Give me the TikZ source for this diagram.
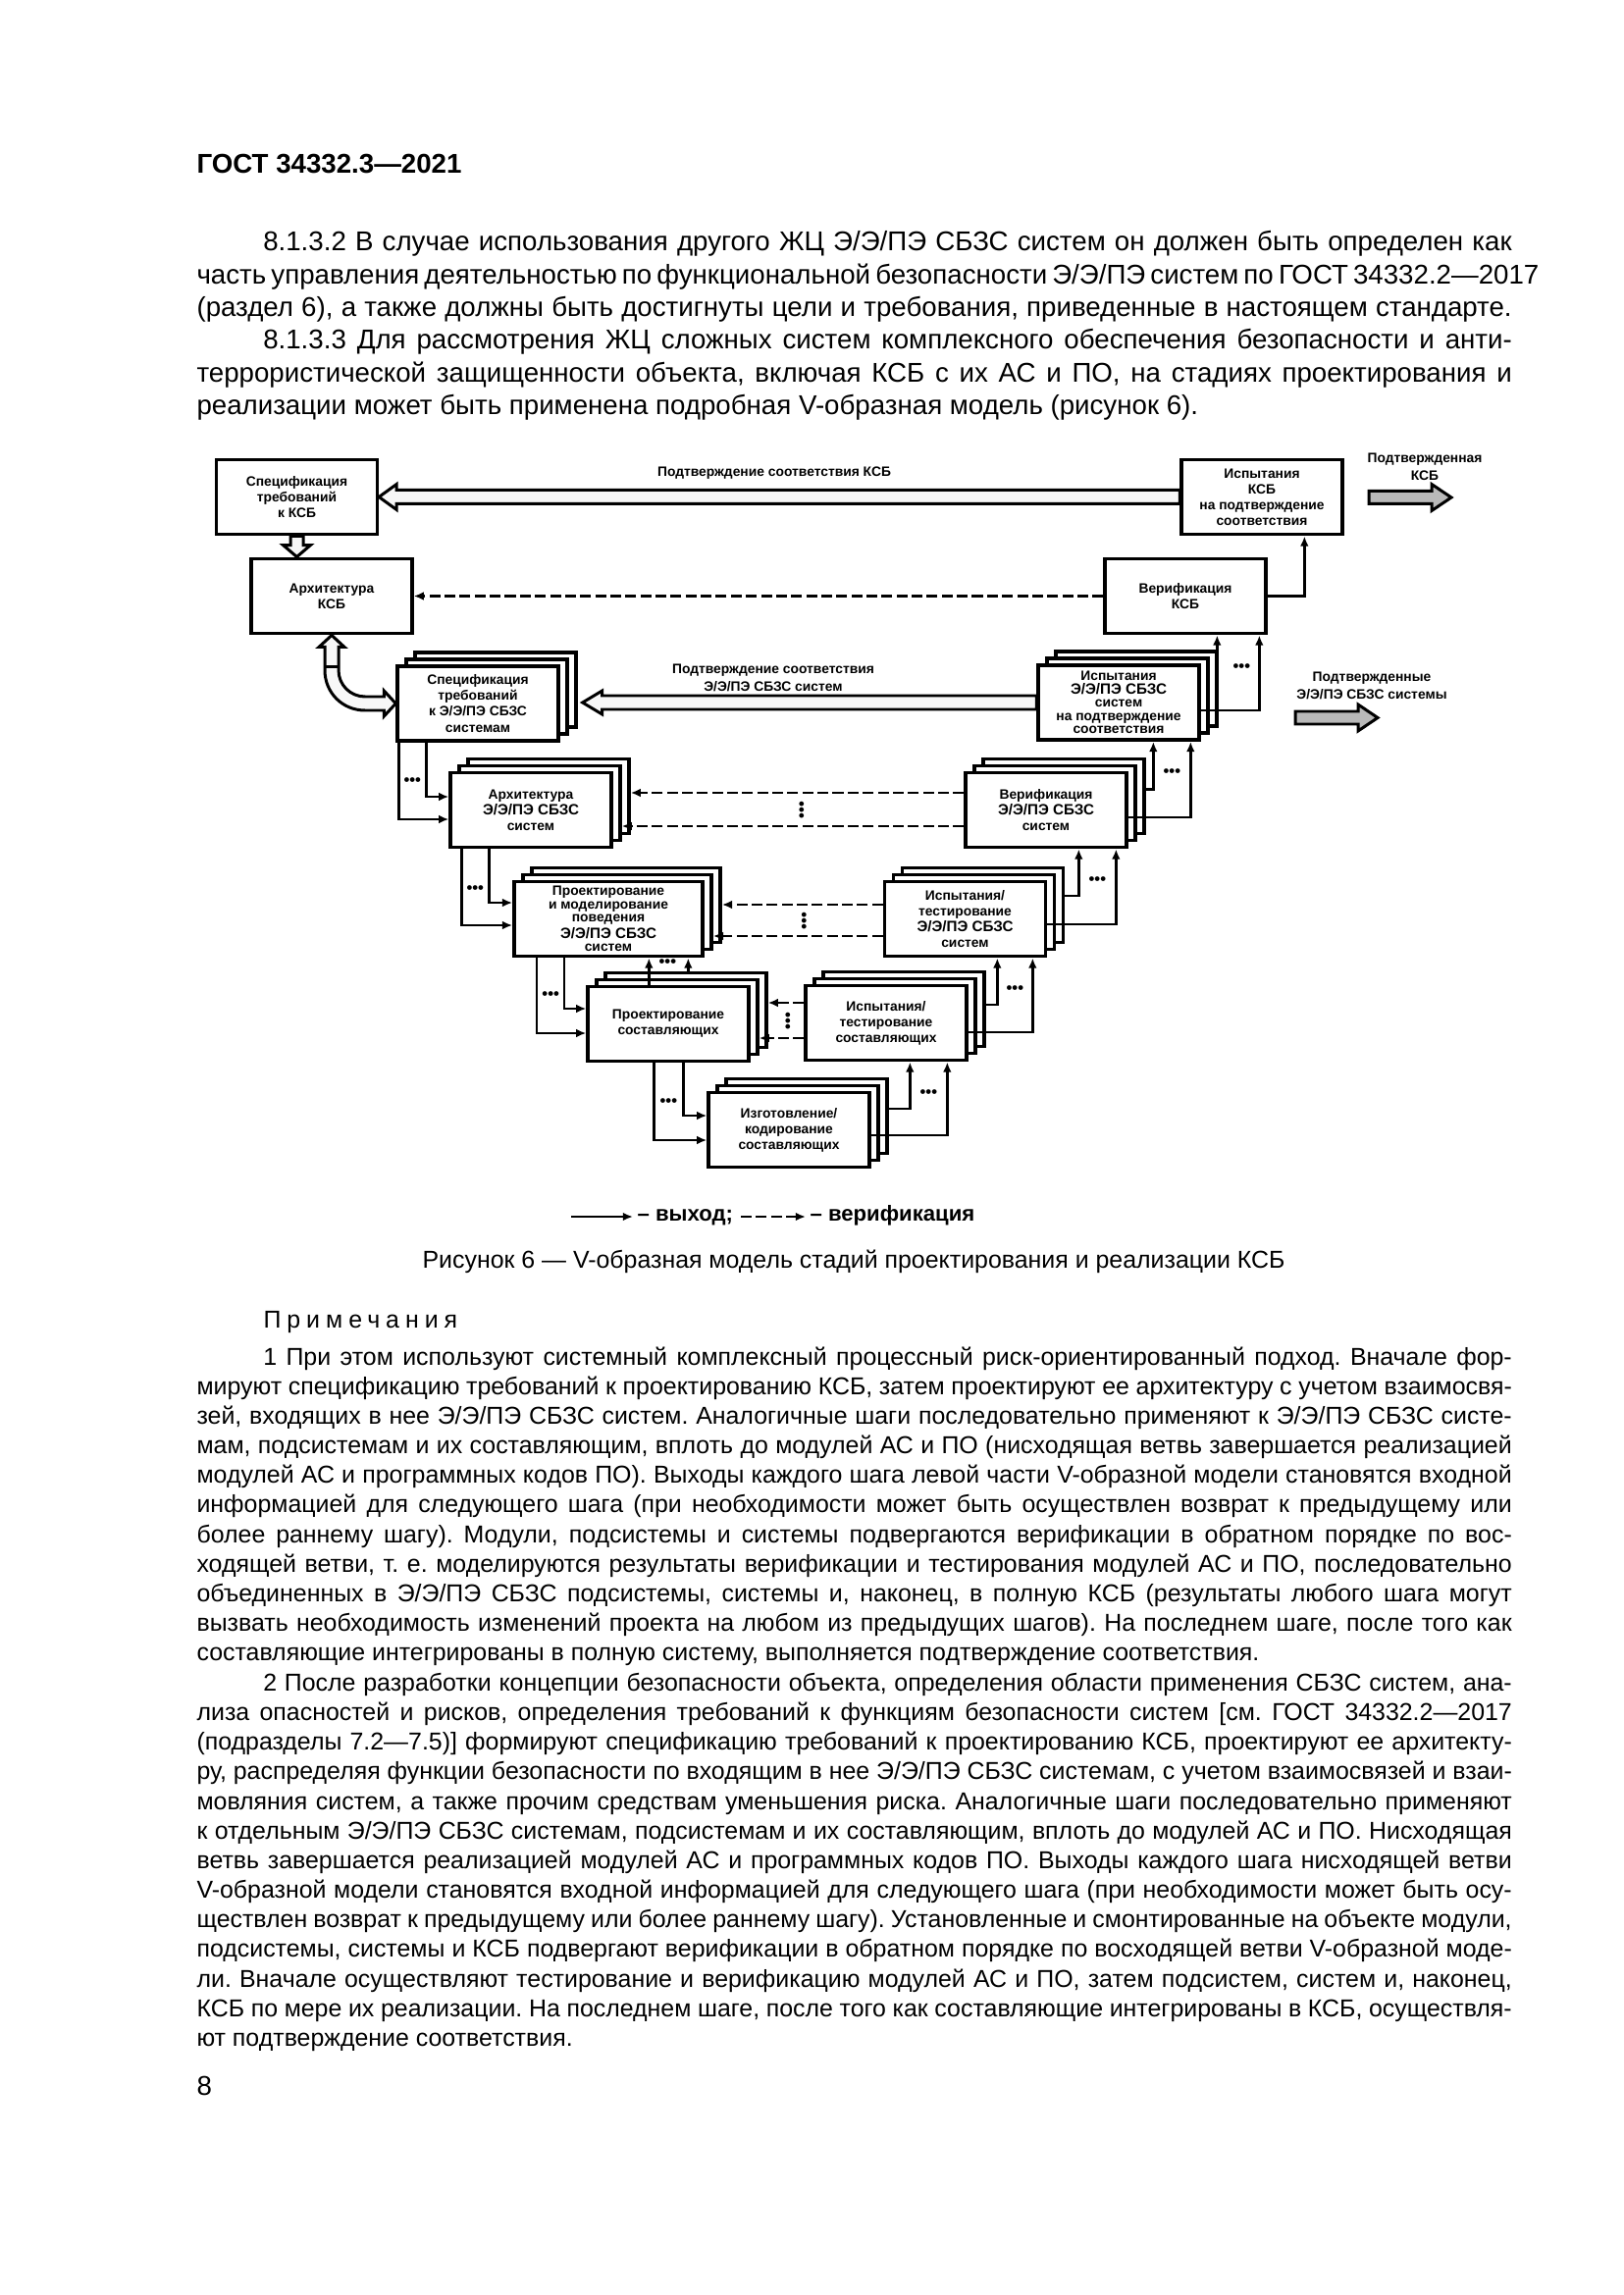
\documentclass[tikz,border=0pt]{standalone}
\usepackage{fontspec}
\setmainfont{Liberation Sans}
\usetikzlibrary{arrows.meta, calc}
\hfuzz=4pt \hbadness=10000
\frenchspacing
\newlength\textw \setlength\textw{170.2mm}
\newcommand\jl[1]{\hbox to\hsize{#1}}
\newcommand\el[1]{\hbox{#1}}
\newcommand\ind{\kern8.6mm}
\newcommand\txtblock[2]{\vtop{\hsize=\textw\baselineskip=#1\lineskiplimit=-1cm\lineskip=0pt #2}}
\newcommand\bodyfont{\fontsize{10}{12}\selectfont}
\newcommand\notefont{\fontsize{9}{10.9}\selectfont}
\newcommand\hdrfont{\fontsize{10}{12}\selectfont\bfseries}
\newcommand\boxfont{\fontsize{5}{5.8}\selectfont\bfseries}
\newcommand\tightfont{\fontsize{5}{4.9}\selectfont\bfseries}
\newcommand\lblfont{\fontsize{5}{6.3}\selectfont\bfseries}
\newcommand\dotfont{\fontsize{6}{6}\selectfont\bfseries}
\newcommand\lgdfont{\fontsize{8}{10}\selectfont\bfseries}
\newcommand\ee{{\fontsize{5.5}{5.8}\selectfont Э/Э/ПЭ СБЗС}}
% стопка из трёх блоков: имя, центр, опции, текст
\newcommand\stk[4]{%
  \node[blk,#3] (#1-2) at ($(#2)+(18,-14)$) {};
  \node[blk,#3] (#1-1) at ($(#2)+(9,-7)$) {};
  \node[blk,#3] (#1) at (#2) {#4};}
% серая стрелка вправо от точки
\newcommand\grayarrow[1]{%
  \draw[grar] (#1) -- ++(0,-6.5) -- ++(64,0) -- ++(0,-7) -- ++(20,13.5)
    -- ++(-20,13.5) -- ++(0,-7) -- ++(-64,0) -- cycle;}

\begin{document}
\begin{tikzpicture}[x=0.127mm, y=-0.127mm,
  blk/.style={draw, line width=0.45mm, fill=white, minimum width=20.8mm,
    minimum height=9.7mm, align=center, inner sep=1pt, font=\boxfont},
  wide/.style={minimum width=24.4mm},
  tight/.style={font=\tightfont},
  exitline/.style={line width=0.3mm, -{Latex[length=1.3mm, width=1.1mm]}},
  verline/.style={exitline, dash pattern=on 1.4mm off 0.55mm},
  holl/.style={draw, line width=0.38mm, fill=gray!6, line join=miter},
  grar/.style={draw, line width=0.38mm, fill=gray!55},
  dotsn/.style={font=\dotfont, inner sep=0},
  lbl/.style={font=\lblfont, align=center, inner sep=0},
  txt/.style={anchor=base west, inner sep=0, font=\bodyfont},
  lgd/.style={anchor=base west, inner sep=0, font=\lgdfont}]
  \useasboundingbox (0,0) rectangle (1654,2339);
  \fill[white] (0,0) rectangle (1654,2339);

  % шапка и текст над рисунком
  \node[txt, font=\hdrfont] (hdr) at (200,177) {ГОСТ 34332.3—2021};
  \node[txt] (p1) at (200,256) {\txtblock{4.23mm}{%
    \jl{\ind 8.1.3.2 В случае использования другого ЖЦ Э/Э/ПЭ СБЗС систем он должен быть определен как}
    \jl{часть управления деятельностью по функциональной безопасности Э/Э/ПЭ систем по ГОСТ 34332.2—2017}
    \jl{(раздел 6), а также должны быть достигнуты цели и требования, приведенные в настоящем стандарте.}}};
  \node[txt] (p2) at (200,356) {\txtblock{4.23mm}{%
    \jl{\ind 8.1.3.3 Для рассмотрения ЖЦ сложных систем комплексного обеспечения безопасности и анти-}
    \jl{террористической защищенности объекта, включая КСБ с их АС и ПО, на стадиях проектирования и}
    \el{реализации может быть применена подробная V-образная модель (рисунок 6).}}};

  % верхний уровень: КСБ
  \node[blk] (A) at (302.5,506.5) {Спецификация\\ требований\\ к КСБ};
  \node[blk] (B) at (338,607.5) {Архитектура\\ КСБ};
  \node[blk] (T) at (1286,506.5) {Испытания\\ КСБ\\ на подтверждение\\ соответствия};
  \node[blk] (V) at (1208,607.5) {Верификация\\ КСБ};

  % стопки блоков
  \stk{C}{487,717}{}{Спецификация\\ требований\\ к Э/Э/ПЭ СБЗС\\ системам}
  \stk{D}{1140,716}{tight}{Испытания\\ \ee\\ систем\\ на подтверждение\\ соответствия}
  \stk{E}{541,825.5}{}{Архитектура\\ \ee\\ систем}
  \stk{F}{1066,825.5}{}{Верификация\\ \ee\\ систем}
  \stk{G}{620,936.5}{wide,tight}{Проектирование\\ и моделирование\\ поведения\\ \ee\\ систем}
  \stk{H}{983.5,936.5}{}{Испытания/\\ тестирование\\ \ee\\ систем}
  \stk{I}{681,1043.5}{}{Проектирование\\ составляющих}
  \stk{J}{903,1042.5}{}{Испытания/\\ тестирование\\ составляющих}
  \stk{K}{804,1151.5}{}{Изготовление/\\ кодирование\\ составляющих}

  % полые стрелки
  \draw[holl] (A.east) -- ++(18,-13) -- ++(0,6) -- ($(T.west)+(0,-7)$)
    -- ($(T.west)+(0,7)$) -- ($(A.east)+(18,7)$) -- ++(0,6) -- cycle;
  \coordinate (ht) at ($(C-2.east |- D.west)+(5,0)$);
  \draw[holl] (ht) -- ++(20,-12) -- ++(0,5) -- ($(D.west)+(0,-7)$)
    -- ($(D.west)+(0,7)$) -- ($(ht)+(20,7)$) -- ++(0,5) -- cycle;
  \coordinate (ab) at (A.south |- B.north);
  \draw[holl] ($(A.south)+(-6.5,0)$) -- ($(ab)+(-6.5,-12)$) -- ++(-7.5,0) -- (ab)
    -- ($(ab)+(14,-12)$) -- ++(-7.5,0) -- ($(A.south)+(6.5,0)$) -- cycle;
  \coordinate (bc) at (B.south |- C.west);
  \draw[holl] (B.south) -- ($(B.south)+(-13,12)$) -- ($(B.south)+(-7,12)$)
    -- ($(bc)+(-7,-34)$) .. controls ($(bc)+(-7,-11)$) and ($(bc)+(11,7)$) .. ($(bc)+(34,7)$)
    -- ($(C.west)+(-12,7)$) -- ($(C.west)+(-12,13)$) -- (C.west)
    -- ($(C.west)+(-12,-13)$) -- ($(C.west)+(-12,-7)$)
    -- ($(bc)+(34,-7)$) .. controls ($(bc)+(19,-7)$) and ($(bc)+(7,-19)$) .. ($(bc)+(7,-34)$)
    -- ($(B.south)+(7,12)$) -- ($(B.south)+(13,12)$) -- cycle;
  \draw[line width=0.38mm] ($(B.south)+(-7,32)$) -- ($(B.south)+(7,32)$);

  % подписи
  \node[lbl] (lcsb) at (789,482) {Подтверждение соответствия КСБ};
  \node[lbl] (lsys) at (788,691) {Подтверждение соответствия\\ Э/Э/ПЭ СБЗС систем};
  \node[lbl] (lokcsb) at (1452,476) {Подтвержденная\\ КСБ};
  \node[lbl] (loksys) at (1398,699) {Подтвержденные\\ Э/Э/ПЭ СБЗС системы};
  \coordinate (g1) at (1395,507);
  \coordinate (g2) at (1320,731.5);
  \grayarrow{g1}
  \grayarrow{g2}

  % нисходящая ветвь
  \draw[exitline] ($(C.south west)+(31,0)$) |- ($(E.west)+(0,-13.5)$);
  \draw[exitline] ($(C.south west)+(3,0)$) |- ($(E.west)+(0,9.5)$);
  \node[dotsn] (dce) at ($(C.south west)+(17,40)$) {•••};
  \draw[exitline] ($(E.south west)+(41,0)$) |- ($(G.west)+(0,-16.5)$);
  \draw[exitline] ($(E.south west)+(13,0)$) |- ($(G.west)+(0,6.5)$);
  \node[dotsn] (deg) at ($(E.south west)+(27,41)$) {•••};
  \draw[exitline] ($(G.south west)+(53,0)$) |- ($(I.west)+(0,-15.5)$);
  \draw[exitline] ($(G.south west)+(25,0)$) |- ($(I.west)+(0,9.5)$);
  \node[dotsn] (dgi) at ($(G.south west)+(39,38)$) {•••};
  \draw[exitline] ($(I.south west)+(99,0)$) |- ($(K.west)+(0,-14.5)$);
  \draw[exitline] ($(I.south west)+(69,0)$) |- ($(K.west)+(0,10.5)$);
  \node[dotsn] (dik) at ($(I.south west)+(84,40)$) {•••};
  \draw[exitline] ($(I.north west)+(64,0)$) coordinate (ig1) -- (ig1 |- G.south);
  \draw[exitline] ($(I-2.north west)+(86,0)$) coordinate (ig2) -- (ig2 |- G.south);
  \node[dotsn] (dig) at ($(I.north west)+(83,-22)$) {•••};

  % восходящая ветвь
  \draw[exitline] ($(K-2.east)+(0,-7.5)$) -| ($(J.south west)+(108,0)$);
  \draw[exitline] ($(K.east)+(0,5.5)$) -| ($(J.south west)+(146,0)$);
  \node[dotsn] (dkj) at ($(J.south west)+(127,32)$) {•••};
  \draw[exitline] ($(J-2.east)+(0,-4.5)$) -| ($(H.south west)+(116.5,0)$);
  \draw[exitline] ($(J.east)+(0,9.5)$) -| ($(H.south west)+(152.5,0)$);
  \node[dotsn] (djh) at ($(H.south west)+(134.5,32)$) {•••};
  \draw[exitline] ($(H-2.east)+(0,-9.5)$) -| ($(F.south west)+(117,0)$);
  \draw[exitline] ($(H.east)+(0,5.5)$) -| ($(F.south west)+(155,0)$);
  \node[dotsn] (dhf) at ($(F.south west)+(136,32)$) {•••};
  \draw[exitline] ($(F-2.east)+(0,-7)$) -| ($(D.south west)+(119,0)$);
  \draw[exitline] ($(F.east)+(0,7.5)$) -| ($(D.south west)+(157,0)$);
  \node[dotsn] (dfd) at ($(D.south west)+(138,32)$) {•••};
  \draw[exitline] ($(D-2.east)+(0,-7)$) -| ($(V.south west)+(116,0)$);
  \draw[exitline] ($(D.east)+(0,8)$) -| ($(V.south west)+(159,0)$);
  \node[dotsn] (ddv) at ($(V.south west)+(141,33)$) {•••};
  \draw[exitline] (V.east) -| ($(T.south west)+(127,0)$);

  % верификация
  \draw[verline] (V.west) -- (B.east);
  \draw[verline] ($(F.west)+(0,-17.5)$) coordinate (fe1) -- (fe1 -| E-2.east);
  \draw[verline] ($(F.west)+(0,16.5)$) coordinate (fe2) -- (fe2 -| E-1.east);
  \node[dotsn, rotate=90] (dfe) at ($(F.west)+(-164,0)$) {•••};
  \draw[verline] ($(H.west)+(0,-14.5)$) coordinate (hg1) -- (hg1 -| G-2.east);
  \draw[verline] ($(H.west)+(0,17.5)$) coordinate (hg2) -- (hg2 -| G-1.east);
  \node[dotsn, rotate=90] (dhg) at ($(H.west)+(-79,2)$) {•••};
  \draw[verline] ($(J.west)+(0,-20.5)$) coordinate (ji1) -- (ji1 -| I-2.east);
  \draw[verline] ($(J.west)+(0,15.5)$) coordinate (ji2) -- (ji2 -| I-1.east);
  \node[dotsn, rotate=90] (dji) at ($(J.west)+(-15,-2)$) {•••};

  % легенда
  \node[lgd] (lgout) at (649,1244) {– выход;};
  \node[lgd] (lgver) at (825,1244) {– верификация};
  \coordinate (lgs) at (582,1240);
  \coordinate (lgv) at (755,1240);
  \draw[exitline] (lgs) -- ($(lgs -| lgout.west)+(-4,0)$);
  \draw[verline] (lgv) -- ($(lgv -| lgver.west)+(-4,0)$);

  % подпись рисунка и примечания
  \node[txt, anchor=base, font=\notefont] (cap) at (870,1292)
    {Рисунок 6 — V-образная модель стадий проектирования и реализации КСБ};
  \node[txt, font=\notefont] (nth) at (268,1353) {\addfontfeature{LetterSpace=24}Примечания};
  \node[txt, font=\notefont] (n1) at (200,1391) {\txtblock{3.835mm}{%
    \jl{\ind 1 При этом используют системный комплексный процессный риск-ориентированный подход. Вначале фор-}
    \jl{мируют спецификацию требований к проектированию КСБ, затем проектируют ее архитектуру с учетом взаимосвя-}
    \jl{зей, входящих в нее Э/Э/ПЭ СБЗС систем. Аналогичные шаги последовательно применяют к Э/Э/ПЭ СБЗС систе-}
    \jl{мам, подсистемам и их составляющим, вплоть до модулей АС и ПО (нисходящая ветвь завершается реализацией}
    \jl{модулей АС и программных кодов ПО). Выходы каждого шага левой части V-образной модели становятся входной}
    \jl{информацией для следующего шага (при необходимости может быть осуществлен возврат к предыдущему или}
    \jl{более раннему шагу). Модули, подсистемы и системы подвергаются верификации в обратном порядке по вос-}
    \jl{ходящей ветви, т. е. моделируются результаты верификации и тестирования модулей АС и ПО, последовательно}
    \jl{объединенных в Э/Э/ПЭ СБЗС подсистемы, системы и, наконец, в полную КСБ (результаты любого шага могут}
    \jl{вызвать необходимость изменений проекта на любом из предыдущих шагов). На последнем шаге, после того как}
    \el{составляющие интегрированы в полную систему, выполняется подтверждение соответствия.}}};
  \node[txt, font=\notefont] (n2) at (200,1723.2) {\txtblock{3.835mm}{%
    \jl{\ind 2 После разработки концепции безопасности объекта, определения области применения СБЗС систем, ана-}
    \jl{лиза опасностей и рисков, определения требований к функциям безопасности систем [см. ГОСТ 34332.2—2017}
    \jl{(подразделы 7.2—7.5)] формируют спецификацию требований к проектированию КСБ, проектируют ее архитекту-}
    \jl{ру, распределяя функции безопасности по входящим в нее Э/Э/ПЭ СБЗС системам, с учетом взаимосвязей и взаи-}
    \jl{мовляния систем, а также прочим средствам уменьшения риска. Аналогичные шаги последовательно применяют}
    \jl{к отдельным Э/Э/ПЭ СБЗС системам, подсистемам и их составляющим, вплоть до модулей АС и ПО. Нисходящая}
    \jl{ветвь завершается реализацией модулей АС и программных кодов ПО. Выходы каждого шага нисходящей ветви}
    \jl{V-образной модели становятся входной информацией для следующего шага (при необходимости может быть осу-}
    \jl{ществлен возврат к предыдущему или более раннему шагу). Установленные и смонтированные на объекте модули,}
    \jl{подсистемы, системы и КСБ подвергают верификации в обратном порядке по восходящей ветви V-образной моде-}
    \jl{ли. Вначале осуществляют тестирование и верификацию модулей АС и ПО, затем подсистем, систем и, наконец,}
    \jl{КСБ по мере их реализации. На последнем шаге, после того как составляющие интегрированы в КСБ, осуществля-}
    \el{ют подтверждение соответствия.}}};
  \node[txt] (pg) at (200,2135) {8};
\end{tikzpicture}
\end{document}
